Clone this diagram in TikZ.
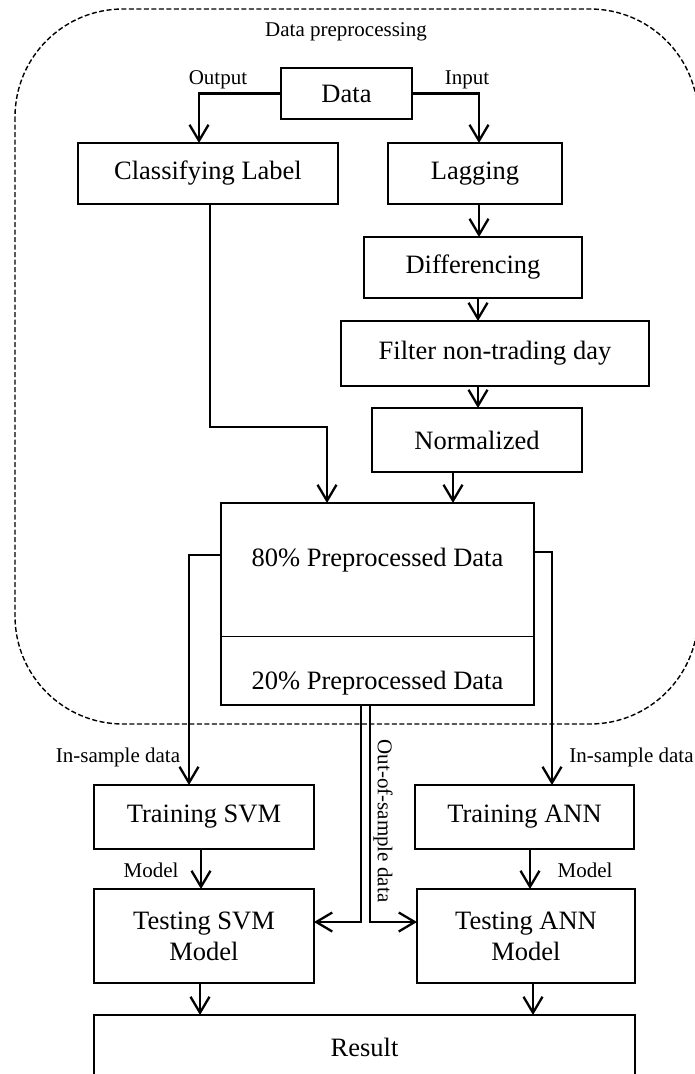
\documentclass[tikz,border=0pt]{standalone}
\usepackage{fontspec}
\setmainfont{Liberation Serif}
\usetikzlibrary{arrows.meta}
\begin{document}
\begin{tikzpicture}[x=1pt,y=-1pt,
  box/.style={draw,line width=2.3pt,inner sep=0pt,outer sep=0pt,align=center,
    font=\fontsize{26.5}{31}\selectfont},
  lbl/.style={inner sep=0pt,font=\fontsize{21}{24}\selectfont},
  big/.style={inner sep=0pt,font=\fontsize{26.5}{31}\selectfont},
  arr/.style={line width=2.3pt,-{Straight Barb[length=16pt,width=19pt]}},
  region/.style={line width=1.4pt,dash pattern=on 5pt off 2.5pt,rounded corners=108pt}]
\useasboundingbox (0,0) rectangle (694,1074);

% dashed region
\draw[region] (15,9) rectangle (698,724);
\node[lbl] (title) at (346,32) {Data preprocessing};

% boxes
\node[box,minimum width=131pt,minimum height=51pt] (data) at (346.5,93.5) {Data};
\node[box,minimum width=260pt,minimum height=61pt] (cls) at (208,173.5) {Classifying Label};
\node[box,minimum width=174pt,minimum height=61pt] (lag) at (475,173.5) {Lagging};
\node[box,minimum width=218pt,minimum height=61pt] (diff) at (473,267.5) {Differencing};
\node[box,minimum width=308pt,minimum height=65pt] (filt) at (495,353.5) {Filter non-trading day};
\node[box,minimum width=210pt,minimum height=64pt] (norm) at (477,440) {Normalized};
\node[box,minimum width=313pt,minimum height=202pt] (bigbox) at (377.5,604) {};
\node[big] (p80) at (377.5,560) {80\% Preprocessed Data};
\node[big] (p20) at (377.5,683) {20\% Preprocessed Data};
\coordinate (dl) at (221,636);
\coordinate (dr) at (534,636);
\draw[line width=1pt] (dl) -- (dr);

\node[box,minimum width=220pt,minimum height=64pt] (trsvm) at (204,817) {Training SVM};
\node[box,minimum width=219pt,minimum height=64pt] (trann) at (524.5,817) {Training ANN};
\node[box,minimum width=220pt,minimum height=94pt] (tesvm) at (204,936) {Testing SVM\\Model};
\node[box,minimum width=218pt,minimum height=94pt] (teann) at (526,936) {Testing ANN\\Model};
\node[box,minimum width=541pt,minimum height=64pt] (result) at (364.5,1047) {Result};

% labels
\node[lbl] (lout) at (218,80) {Output};
\node[lbl] (lin) at (467,80) {Input};
\node[lbl] (lis1) at (118,757) {In-sample data};
\node[lbl] (lis2) at (631.5,757) {In-sample data};
\node[lbl] (lm1) at (151,870) {Model};
\node[lbl] (lm2) at (585,870) {Model};
\node[lbl,rotate=-90] (loos) at (383,821) {Out-of-sample data};

% connectors
\draw[arr] (data.west) -| ([xshift=-9pt]cls.north);
\draw[arr] (data.east) -| ([xshift=4pt]lag.north);

\coordinate (b1) at (210,427);
\coordinate (b2) at (327,427);
\draw[arr] (cls.south -| b1) -- (b1) -- (b2) -- (b2 |- bigbox.north);

\draw[arr] ([xshift=4pt]lag.south) -- ([xshift=4pt]lag.south |- diff.north);
\draw[arr] ([xshift=5pt]diff.south) -- ([xshift=5pt]diff.south |- filt.north);
\draw[arr] ([xshift=-17pt]filt.south) -- ([xshift=-17pt]filt.south |- norm.north);
\draw[arr] ([xshift=-24pt]norm.south) -- ([xshift=-24pt]norm.south |- bigbox.north);

\coordinate (w1) at (189,555);
\coordinate (e1) at (552,552);
\draw[arr] (bigbox.west |- w1) -- (w1) -- (w1 |- trsvm.north);
\draw[arr] (bigbox.east |- e1) -- (e1) -- (e1 |- trann.north);

\draw[arr] ([xshift=-3pt]trsvm.south) -- ([xshift=-3pt]trsvm.south |- tesvm.north);
\draw[arr] ([xshift=5.5pt]trann.south) -- ([xshift=5.5pt]trann.south |- teann.north);

\coordinate (o1) at (361,922);
\coordinate (o2) at (370,922);
\draw[arr] (bigbox.south -| o1) -- (o1) -- (o1 -| tesvm.east);
\draw[arr] (bigbox.south -| o2) -- (o2) -- (o2 -| teann.west);

\draw[arr] ([xshift=-4pt]tesvm.south) -- ([xshift=-4pt]tesvm.south |- result.north);
\draw[arr] ([xshift=7pt]teann.south) -- ([xshift=7pt]teann.south |- result.north);
\end{tikzpicture}
\end{document}
